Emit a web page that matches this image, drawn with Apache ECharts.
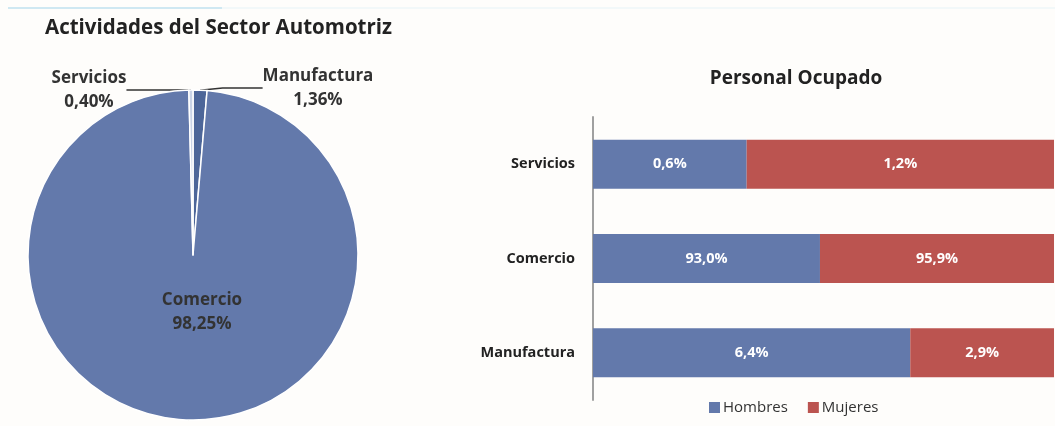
<!DOCTYPE html>
<html lang="es">
<head>
    <meta charset="UTF-8">
    <title>Sector Automotriz</title>
    <script src="https://cdn.jsdelivr.net/npm/echarts@6/dist/echarts.min.js"></script>
    <style>
        html, body { margin: 0; padding: 0; background: #fefdfb; }
        #chart { width: 1055px; height: 426px; }
    </style>
</head>
<body>
    <div id="chart"></div>
    <script>
        // pie: share of each activity (%)
        var actividades = ['Manufactura', 'Comercio', 'Servicios'];
        var participacion = [1.36, 98.25, 0.40];
        var coloresPie = ['#4d6699', '#6379ab', '#c9d3e6'];

        // bars: personal ocupado (%)
        var categorias = ['Servicios', 'Comercio', 'Manufactura'];
        var hombres = [0.6, 93.0, 6.4];
        var mujeres = [1.2, 95.9, 2.9];

        function coma(v, d) {
            return v.toFixed(d).replace('.', ',') + '%';
        }

        // 100% stacked: share of each row
        var shareH = [], shareM = [];
        for (var i = 0; i < categorias.length; i++) {
            var tot = hombres[i] + mujeres[i];
            shareH.push(hombres[i] / tot);
            shareM.push(mujeres[i] / tot);
        }

        var fuente = 'Open Sans';
        var myChart = echarts.init(document.getElementById('chart'));
        var option = {
            backgroundColor: '#fefdfb',
            animation: false,
            title: [
                {
                    text: 'Actividades del Sector Automotriz',
                    left: 40, top: 13,
                    textStyle: { fontFamily: fuente, fontSize: 20.5, fontWeight: 'bold', color: '#222' }
                },
                {
                    text: 'Personal Ocupado',
                    left: 791, top: 64, textAlign: 'center',
                    textStyle: { fontFamily: fuente, fontSize: 19, fontWeight: 'bold', color: '#222' }
                }
            ],
            graphic: [
                { type: 'line', shape: { x1: 8, y1: 8, x2: 222, y2: 8 }, style: { stroke: '#cfe8f2', lineWidth: 2 } },
                { type: 'line', shape: { x1: 222, y1: 8, x2: 1055, y2: 8 }, style: { stroke: '#f2f8f9', lineWidth: 2 } }
            ],
            legend: {
                data: ['Hombres', 'Mujeres'],
                left: 704, top: 395,
                icon: 'rect', itemWidth: 11, itemHeight: 11, itemGap: 20, itemStyle: { borderWidth: 0 },
                textStyle: { fontFamily: fuente, fontSize: 15, color: '#333', padding: [0, 0, 0, -2] }
            },
            grid: { left: 593, right: 1, top: 117, bottom: 26 },
            xAxis: { type: 'value', min: 0, max: 1, show: false },
            yAxis: {
                type: 'category',
                data: categorias,
                inverse: true,
                axisLine: { lineStyle: { color: '#a0a0a0', width: 2 } },
                axisTick: { show: false },
                axisLabel: { fontFamily: fuente, fontSize: 14.5, fontWeight: 'bold', color: '#222', margin: 18 }
            },
            series: [
                {
                    type: 'pie',
                    center: [193, 255],
                    radius: 165,
                    startAngle: 90,
                    clockwise: true,
                    data: actividades.map(function (n, i) {
                        return { name: n, value: participacion[i], itemStyle: { color: coloresPie[i] } };
                    }),
                    itemStyle: { borderColor: '#ffffff', borderWidth: 1.5 },
                    label: {
                        position: 'outside',
                        fontFamily: fuente, fontSize: 17, fontWeight: 'bold', color: '#333',
                        lineHeight: 24, align: 'center',
                        formatter: function (p) { return p.name + '\n' + coma(p.value, 2); }
                    },
                    labelLine: { show: true, length: 10, length2: 40, lineStyle: { color: '#333', width: 1.5 } },
                    labelLayout: function (p) {
                        if (p.dataIndex === 0) return { x: 318, y: 88, align: 'center', verticalAlign: 'middle' };
                        if (p.dataIndex === 2) return { x: 89, y: 90, align: 'center', verticalAlign: 'middle' };
                        return { x: 202, y: 312, align: 'center', verticalAlign: 'middle' };
                    },
                    emphasis: { disabled: true },
                    z: 3
                },
                {
                    name: 'Hombres',
                    type: 'bar',
                    stack: 'total',
                    data: shareH,
                    barWidth: 49,
                    itemStyle: { color: '#6379ab' },
                    label: {
                        show: true, position: 'inside',
                        fontFamily: fuente, fontSize: 14.5, fontWeight: 'bold', color: '#ffffff',
                        formatter: function (p) { return coma(hombres[p.dataIndex], 1); }
                    }
                },
                {
                    name: 'Mujeres',
                    type: 'bar',
                    stack: 'total',
                    data: shareM,
                    barWidth: 49,
                    itemStyle: { color: '#bb5450' },
                    label: {
                        show: true, position: 'inside',
                        fontFamily: fuente, fontSize: 14.5, fontWeight: 'bold', color: '#ffffff',
                        formatter: function (p) { return coma(mujeres[p.dataIndex], 1); }
                    }
                }
            ]
        };
        myChart.setOption(option);
    </script>
</body>
</html>
